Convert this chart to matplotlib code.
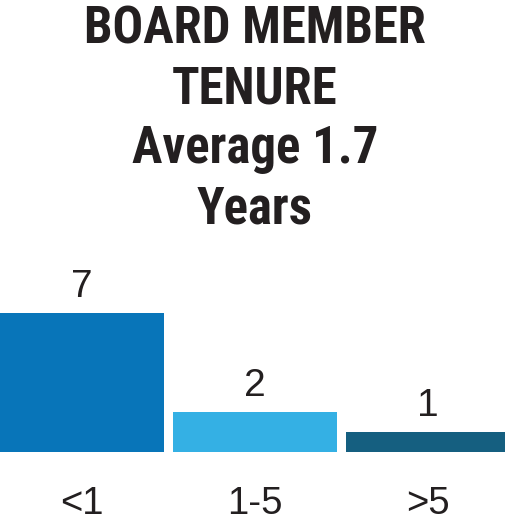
import matplotlib
matplotlib.use("Agg")
from matplotlib import pyplot as plt

# data
categories = ["<1", "1-5", ">5"]
counts = [7, 2, 1]
bar_colors = ["#0875b9", "#34b0e4", "#155f80"]
title_lines = ["BOARD MEMBER", "TENURE", "Average 1.7", "Years"]

W, H = 506, 524
fig = plt.figure(figsize=(W/100, H/100), dpi=100)

# layout in pixels
px_per_unit = 139/7.0
spacing = 173.0
bw = 164/spacing
ax_bottom = H - 452
ax_top = H - 250
ax = fig.add_axes([0, ax_bottom/H, 1, (ax_top-ax_bottom)/H])
x = list(range(len(categories)))
ax.bar(x, counts, width=bw, color=bar_colors)
ax.set_xlim(-bw/2, -bw/2 + W/spacing)
ax.set_ylim(0, (ax_top-ax_bottom)/px_per_unit)
ax.axis("off")

for xi, v, c in zip(x, counts, categories):
    ax.annotate(str(v), (xi, v), xytext=(0, 16), textcoords="offset pixels",
                ha="center", va="baseline", fontsize=28, color="#231f20",
                family="Liberation Sans", annotation_clip=False)
    ax.annotate(c, (xi, 0), xytext=(0, -62), textcoords="offset pixels",
                ha="center", va="baseline", fontsize=27.5, color="#231f20",
                family="Liberation Sans", annotation_clip=False)

baselines = [44, 104, 163, 223]
for line, b in zip(title_lines, baselines):
    fig.text(255/W, 1 - b/H, line, ha="center", va="baseline", fontsize=36.6,
             fontweight="bold", family="Roboto Condensed", color="#231f20")

plt.savefig("out.png", dpi=100)
